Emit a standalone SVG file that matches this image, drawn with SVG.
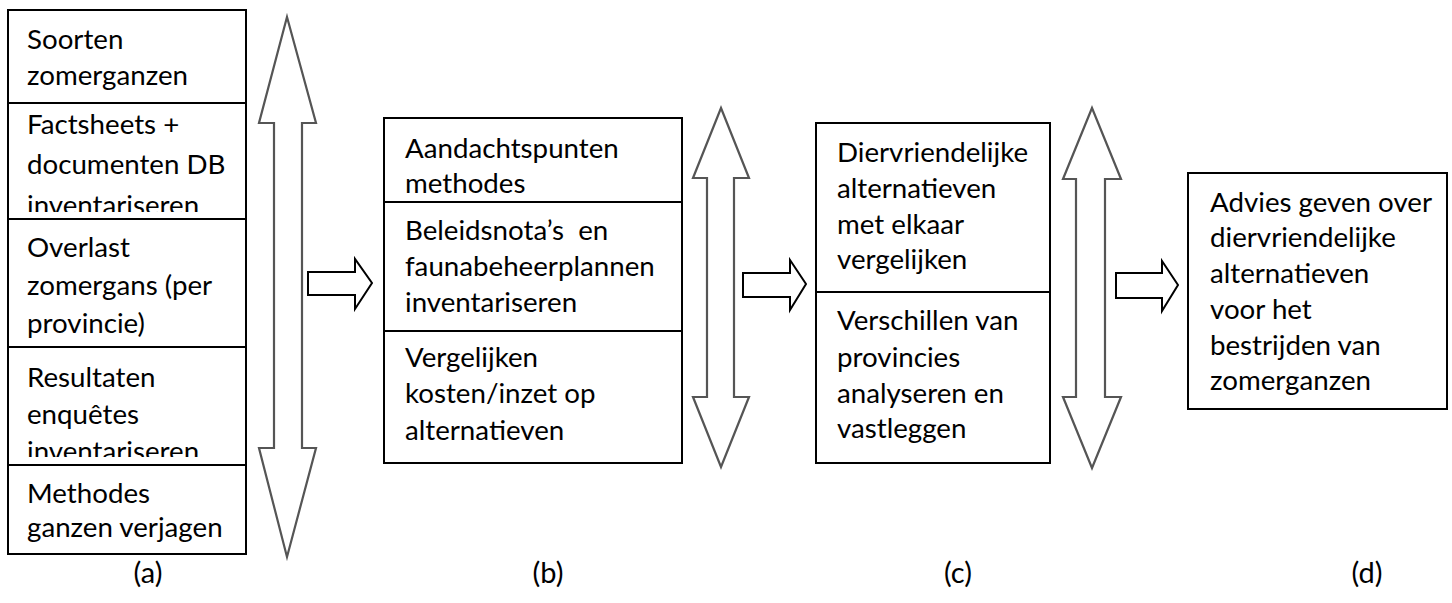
<svg xmlns="http://www.w3.org/2000/svg" width="1452" height="603" viewBox="0 0 1452 603">
<style>
.box{fill:#fff;stroke:#000;stroke-width:2}
.div{stroke:#000;stroke-width:2}
.t{font-family:Lato,"Liberation Sans",sans-serif;font-size:27.7px;fill:#000}
.lbl{font-family:Lato,"Liberation Sans",sans-serif;font-size:29px;fill:#000;text-anchor:middle}
.big{fill:#fff;stroke:#555;stroke-width:2.2;stroke-linejoin:miter}
.small{fill:#fff;stroke:#000;stroke-width:2;stroke-linejoin:miter}
</style>
<defs>
<clipPath id="clipA2"><rect x="8" y="103" width="238" height="109"/></clipPath>
<clipPath id="clipA4"><rect x="8" y="347" width="238" height="110"/></clipPath>
</defs>
<rect width="1452" height="603" fill="#fff"/>
<g id="node-a">
<rect class="box" x="8" y="10" width="238" height="544"/>
<line class="div" x1="8" y1="103" x2="246" y2="103"/>
<line class="div" x1="8" y1="219" x2="246" y2="219"/>
<line class="div" x1="8" y1="347" x2="246" y2="347"/>
<line class="div" x1="8" y1="465" x2="246" y2="465"/>
<text class="t" x="27" y="49">Soorten</text>
<text class="t" x="27" y="85">zomerganzen</text>
<g clip-path="url(#clipA2)">
<text class="t" x="27" y="134">Factsheets +</text>
<text class="t" x="27" y="174">documenten DB</text>
<text class="t" x="27" y="215">inventariseren</text>
</g>
<text class="t" x="27" y="257">Overlast</text>
<text class="t" x="27" y="295">zomergans (per</text>
<text class="t" x="27" y="333">provincie)</text>
<g clip-path="url(#clipA4)">
<text class="t" x="27" y="387">Resultaten</text>
<text class="t" x="27" y="424">enquêtes</text>
<text class="t" x="27" y="461">inventariseren</text>
</g>
<text class="t" x="27" y="503">Methodes</text>
<text class="t" x="27" y="537">ganzen verjagen</text>
</g>
<g id="node-b">
<rect class="box" x="384" y="118" width="298" height="345"/>
<line class="div" x1="384" y1="202" x2="682" y2="202"/>
<line class="div" x1="384" y1="331" x2="682" y2="331"/>
<text class="t" x="405" y="158">Aandachtspunten</text>
<text class="t" x="405" y="193">methodes</text>
<text class="t" x="405" y="240">Beleidsnota’s&#160; en</text>
<text class="t" x="405" y="276">faunabeheerplannen</text>
<text class="t" x="405" y="312">inventariseren</text>
<text class="t" x="405" y="367">Vergelijken</text>
<text class="t" x="405" y="403">kosten/inzet op</text>
<text class="t" x="405" y="440">alternatieven</text>
</g>
<g id="node-c">
<rect class="box" x="816" y="123" width="234" height="340"/>
<line class="div" x1="816" y1="292" x2="1050" y2="292"/>
<text class="t" x="837" y="162">Diervriendelijke</text>
<text class="t" x="837" y="198">alternatieven</text>
<text class="t" x="837" y="234">met elkaar</text>
<text class="t" x="837" y="269">vergelijken</text>
<text class="t" x="837" y="330">Verschillen van</text>
<text class="t" x="837" y="367">provincies</text>
<text class="t" x="837" y="403">analyseren en</text>
<text class="t" x="837" y="438">vastleggen</text>
</g>
<g id="node-d">
<rect class="box" x="1188" y="173" width="259" height="236"/>
<text class="t" x="1210" y="212">Advies geven over</text>
<text class="t" x="1210" y="247">diervriendelijke</text>
<text class="t" x="1210" y="283">alternatieven</text>
<text class="t" x="1210" y="319">voor het</text>
<text class="t" x="1210" y="355">bestrijden van</text>
<text class="t" x="1210" y="390">zomerganzen</text>
</g>
<g id="labels">
<text class="lbl" x="148" y="583">(a)</text>
<text class="lbl" x="548" y="583">(b)</text>
<text class="lbl" x="958" y="583">(c)</text>
<text class="lbl" x="1367" y="583">(d)</text>
</g>
<g id="connectors">
<polygon class="big" points="287,17 316,123 302,123 302,448 316,448 287,557 259,448 274,448 274,123 259,123"/>
<polygon class="big" points="721,108 749,178 734,178 734,397 749,397 721,467 693,397 707,397 707,178 693,178"/>
<polygon class="big" points="1092,108 1121,179 1105,179 1105,397 1121,397 1092,468 1063,397 1076,397 1076,179 1063,179"/>
<polygon class="small" points="308,272 355,272 355,259 372,283 355,309 355,295 308,295"/>
<polygon class="small" points="743,273 790,273 790,260 806,284 790,310 790,297 743,297"/>
<polygon class="small" points="1116,273 1162,273 1162,261 1178,285 1162,311 1162,298 1116,298"/>
</g>
</svg>
